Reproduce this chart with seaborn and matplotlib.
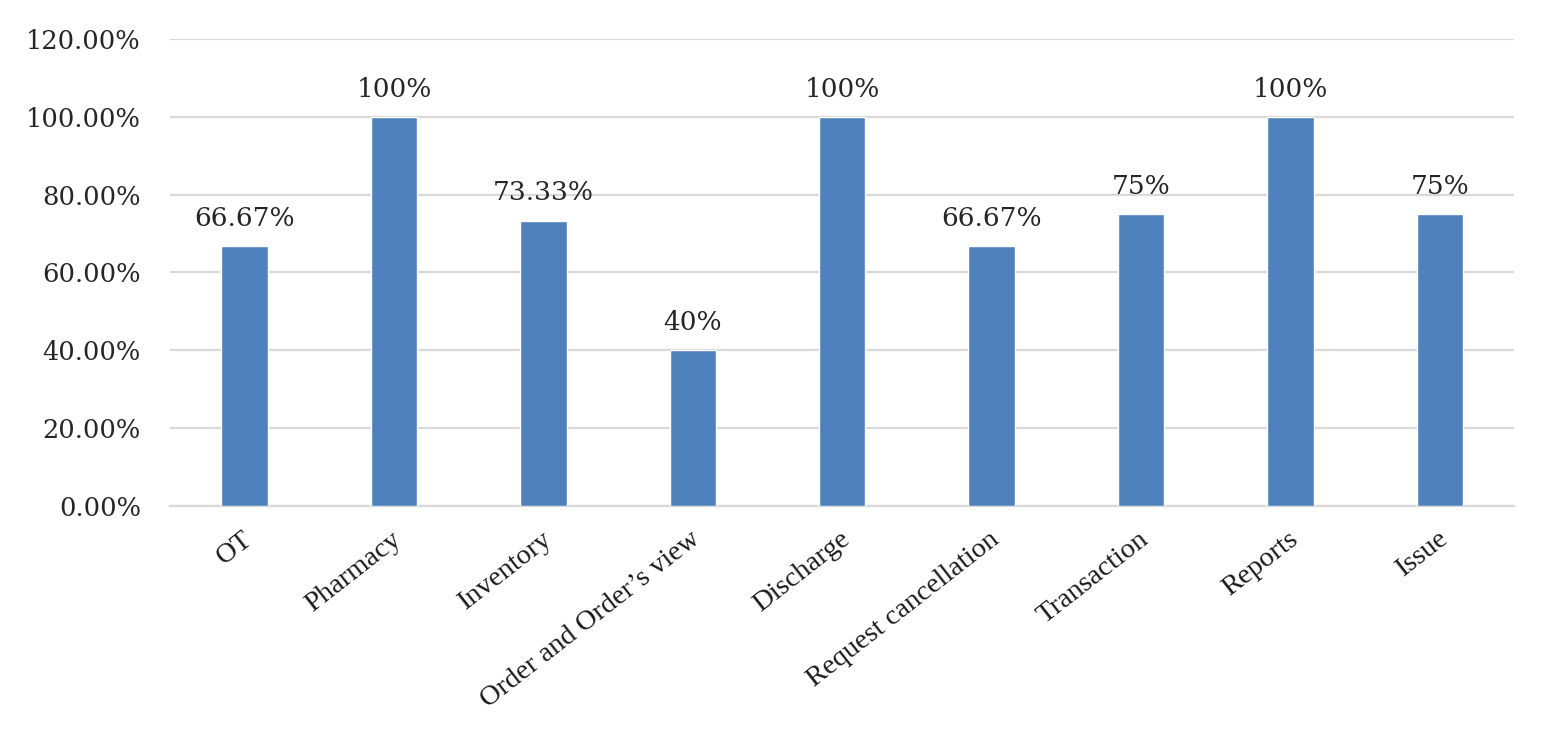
import matplotlib
matplotlib.use("Agg")
import matplotlib.pyplot as plt
import matplotlib.transforms as mtransforms
import seaborn as sns
import pandas as pd
from matplotlib.ticker import FuncFormatter

categories = ["OT", "Pharmacy", "Inventory", "Order and Order\u2019s view", "Discharge",
              "Request cancellation", "Transaction", "Reports", "Issue"]
values = [66.67, 100, 73.33, 40, 100, 66.67, 75, 100, 75]
labels = ["66.67%", "100%", "73.33%", "40%", "100%", "66.67%", "75%", "100%", "75%"]
yticks = [0, 20, 40, 60, 80, 100, 120]

df = pd.DataFrame({"module": categories, "pct": values})

sns.set_style("white")
fig = plt.figure(figsize=(15.49, 7.31), dpi=100)
ax = fig.add_axes([0.1097, 0.308, 0.868, 0.6386])

sns.barplot(data=df, x="module", y="pct", color="#4f81bd", saturation=1,
            width=0.31, ax=ax, zorder=3)

ax.set_ylim(0, 120)
ax.set_xlim(-0.5, len(categories) - 0.5)
ax.set_yticks(yticks)
ax.yaxis.set_major_formatter(FuncFormatter(lambda v, p: f"{v:.2f}%"))
ax.grid(axis="y", color="#d9d9d9", linewidth=1.6, zorder=0)
for s in ["top", "right", "left"]:
    ax.spines[s].set_visible(False)
ax.spines["bottom"].set_color("#d9d9d9")
ax.spines["bottom"].set_linewidth(1.6)
ax.tick_params(axis="both", length=0)
ax.tick_params(axis="y", pad=21)
ax.set_xlabel("")
ax.set_ylabel("")

for t in ax.get_yticklabels():
    t.set_fontfamily("DejaVu Serif")
    t.set_fontsize(18.5)
    t.set_color("#262626")

# category labels, rotated, right end sitting just at the tick
ax.set_xticks(range(len(categories)))
ax.set_xticklabels(categories, rotation=38, ha="right", rotation_mode="anchor",
                   fontfamily="Liberation Serif", fontsize=20.5, color="#1a1a1a")
ax.tick_params(axis="x", pad=15)
shift = mtransforms.ScaledTranslation(-3 / 100, 0, fig.dpi_scale_trans)
for t in ax.get_xticklabels():
    t.set_transform(t.get_transform() + shift)

for i, (v, lab) in enumerate(zip(values, labels)):
    ax.annotate(lab, (i, v), xytext=(0, 11), textcoords="offset points",
                ha="center", va="bottom", fontfamily="DejaVu Serif",
                fontsize=19, color="#262626")

fig.savefig("out.png", dpi=100)
